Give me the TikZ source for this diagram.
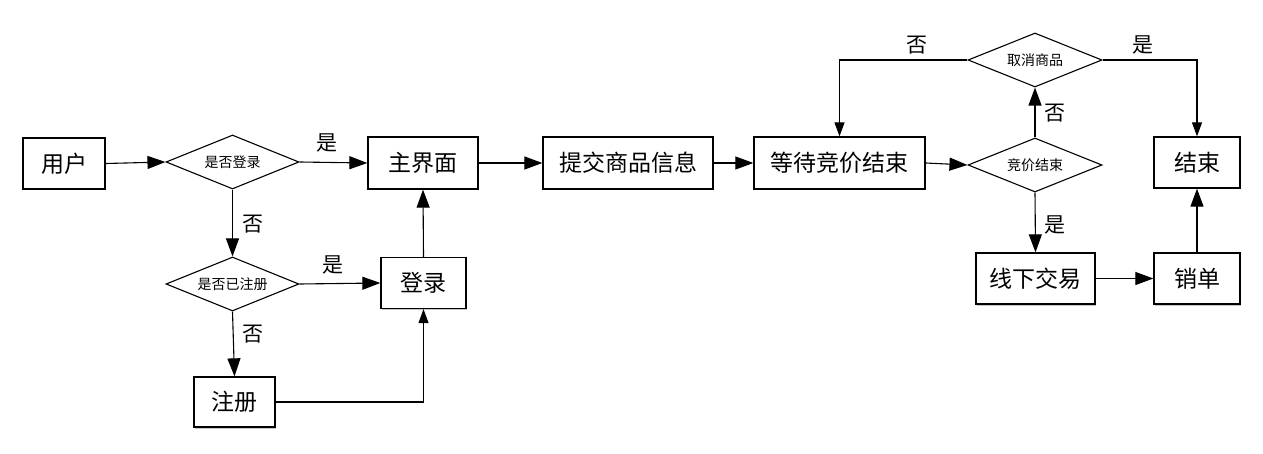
\documentclass[tikz,border=0pt]{standalone}
\usepackage{fontspec}
\setmainfont{Noto Sans CJK SC}
\usetikzlibrary{shapes.geometric,arrows.meta,shadows}
\begin{document}
\begin{tikzpicture}[x=1pt,y=-1pt,
  box/.style={draw, line width=1.3pt, fill=white, inner sep=0pt,
    drop shadow={shadow xshift=1.2pt, shadow yshift=-1.5pt, fill=black!45, opacity=.5},
    font=\fontsize{23}{25}\selectfont},
  dec/.style={draw, diamond, aspect=2.46, line width=1.1pt, fill=white, inner sep=0pt,
    minimum width=133pt, minimum height=54pt, font=\fontsize{14}{16}\selectfont},
  big/.style={line width=1.1pt, -{Triangle[length=18pt,width=13pt]}},
  small/.style={line width=1.1pt, -{Triangle[length=14pt,width=10pt]}},
  lab/.style={font=\fontsize{21}{23}\selectfont}]
\useasboundingbox (0,0) rectangle (1263,454);

\node[box, minimum width=82pt, minimum height=51pt] (user) at (64,163.5) {用户};
\node[dec] (d1) at (232.5,162) {是否登录};
\node[box, minimum width=110pt, minimum height=52pt] (main) at (423,163) {主界面};
\node[dec] (d2) at (232.5,284) {是否已注册};
\node[box, minimum width=85pt, minimum height=51pt] (login) at (423.5,283) {登录};
\node[box, minimum width=81pt, minimum height=50pt] (reg) at (234.5,402) {注册};
\node[box, minimum width=170pt, minimum height=52pt] (submit) at (628,163) {提交商品信息};
\node[box, minimum width=171pt, minimum height=52pt] (wait) at (839.5,163) {等待竞价结束};
\node[dec, minimum width=134pt] (d3) at (1035,165) {竞价结束};
\node[dec, minimum width=134pt] (d4) at (1035,60) {取消商品};
\node[box, minimum width=86pt, minimum height=51pt] (end) at (1197,162.5) {结束};
\node[box, minimum width=119pt, minimum height=51pt] (offline) at (1035.5,278.5) {线下交易};
\node[box, minimum width=86pt, minimum height=51pt] (cancel) at (1197,278.5) {销单};

\draw[big] (user.east) -- (d1.west);
\draw[big] (d1.east) -- (main.west);
\draw[big] (d1.south) -- (d2.north);
\draw[big] (d2.east) -- (login.west);
\draw[big] (d2.south) -- (reg.north);
\draw[small] (reg.east) -| (login.south);
\draw[big] (login.north) -- (main.south);
\draw[big] (main.east) -- (submit.west);
\draw[big] (submit.east) -- (wait.west);
\draw[big] (wait.east) -- (d3.west);
\draw[big] (d3.north) -- (d4.south);
\draw[big] (d3.south) -- (offline.north);
\draw[big] (offline.east) -- (cancel.west);
\draw[big] (cancel.north) -- (end.south);
\draw[small] (d4.west) -| (wait.north);
\draw[small] (d4.east) -| (end.north);

\node[lab] (l1) at (327,143) {是};
\node[lab] (l2) at (253,224) {否};
\node[lab] (l3) at (333,265) {是};
\node[lab] (l4) at (253,334) {否};
\node[lab] (l5) at (917,45) {否};
\node[lab] (l6) at (1143,45) {是};
\node[lab] (l7) at (1055,113) {否};
\node[lab] (l8) at (1055,225) {是};
\end{tikzpicture}
\end{document}
